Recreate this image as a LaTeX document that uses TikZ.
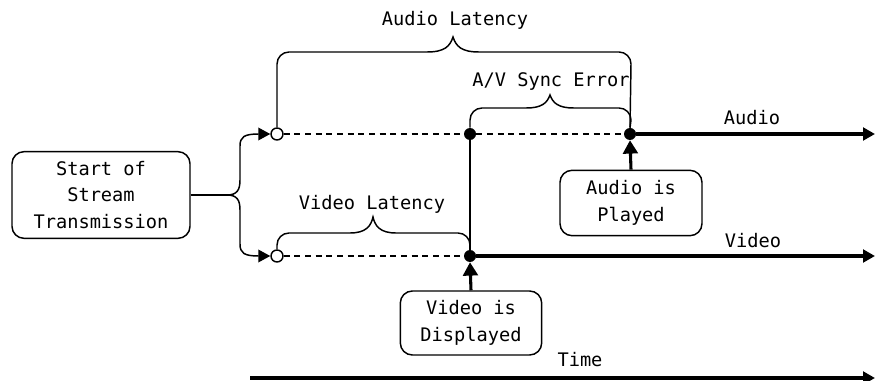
\documentclass[tikz,border=0pt]{standalone}
\usepackage{fontspec}
\setmainfont{DejaVu Sans Mono}
\usetikzlibrary{arrows.meta}
\begin{document}
\begin{tikzpicture}[x=0.75pt,y=-0.75pt,
  thinln/.style={line width=1.1pt},
  thickln/.style={line width=2.3pt},
  dashln/.style={line width=1.1pt,dash pattern=on 4.5pt off 3.5pt},
  box/.style={draw,line width=1.1pt,rounded corners=9pt,align=center,inner sep=0pt},
  opendot/.style={circle,draw,fill=white,line width=1.1pt,inner sep=0pt,minimum size=9pt},
  fulldot/.style={circle,fill=black,inner sep=0pt,minimum size=9pt},
  tipped/.style={-{Triangle[length=9pt,width=9.5pt]}},
  lbl/.style={inner sep=0pt},
  font=\fontsize{14}{19.9}\selectfont]
\useasboundingbox (0,0) rectangle (875,381);

% nodes
\node[box,minimum width=133.5pt,minimum height=65pt] (start) at (101,195) {Start of\\Stream\\Transmission};
\node[box,minimum width=106.5pt,minimum height=49pt] (abox) at (631,203) {Audio is\\Played};
\node[box,minimum width=106pt,minimum height=48pt] (vbox) at (471,323) {Video is\\Displayed};

\node[opendot] (ao) at (277,134) {};
\node[fulldot] (ad) at (470,134) {};
\node[fulldot] (ap) at (630,134) {};
\coordinate (aend) at (875,134);
\node[opendot] (vo) at (277,256) {};
\node[fulldot] (vd) at (470,256) {};
\coordinate (vend) at (875,256);
\coordinate (fork) at (227,195);
\coordinate (ts) at (250,378);
\coordinate (te) at (875,378);

% labels
\node[lbl] (lal) at (455,20) {Audio Latency};
\node[lbl] (lav) at (551,82) {A/V Sync Error};
\node[lbl] (lvl) at (372,204) {Video Latency};
\node[lbl] (la) at (752,118) {Audio};
\node[lbl] (lv) at (753,241) {Video};
\node[lbl] (lt) at (580,360) {Time};

% fork
\draw[thinln] (start.east) -- (fork);
\draw[thinln,tipped] (fork) .. controls (237,195) and (240,190) .. (240,180) -- (240,146)
   .. controls (240,137) and (244,134) .. (ao.west);
\draw[thinln,tipped] (fork) .. controls (237,195) and (240,200) .. (240,210) -- (240,244)
   .. controls (240,253) and (244,256) .. (vo.west);

% time lines
\draw[dashln] (ao.east) -- (ad.west);
\draw[dashln] (ad.east) -- (ap.west);
\draw[thickln,tipped] (ap.east) -- (aend);
\draw[dashln] (vo.east) -- (vd.west);
\draw[thickln,tipped] (vd.east) -- (vend);
\draw[thinln] (ad.south) -- (vd.north);
\draw[thickln,tipped] (ts) -- (te);

% event arrows
\draw[thickln,-{Triangle[length=10pt,width=11pt]}] (abox.north) -- (ap.south);
\draw[thickln,-{Triangle[length=10pt,width=11pt]}] (vbox.north) -- (vd.south);

% braces
\draw[thinln] (ao.north) -- (277,64) to[out=90,in=180] (289,52) -- (427,52)
  .. controls (445,52) and (450,46) .. (453,37)
  .. controls (456,46) and (461,52) .. (479,52) -- (619,52) to[out=0,in=90] (631,64) -- (ap.north);
\draw[thinln] (ad.north) -- (470,120) to[out=90,in=180] (482,108) -- (526,108)
  .. controls (542,108) and (547,103) .. (550,95)
  .. controls (553,103) and (558,108) .. (574,108) -- (619,108) to[out=0,in=90] (631,120) -- (ap.north);
\draw[thinln] (vo.north) -- (277,245) to[out=90,in=180] (289,233) -- (350,233)
  .. controls (366,233) and (371,226) .. (373,217)
  .. controls (375,226) and (380,233) .. (396,233) -- (458,233) to[out=0,in=90] (470,245) -- (vd.north);
\end{tikzpicture}
\end{document}
